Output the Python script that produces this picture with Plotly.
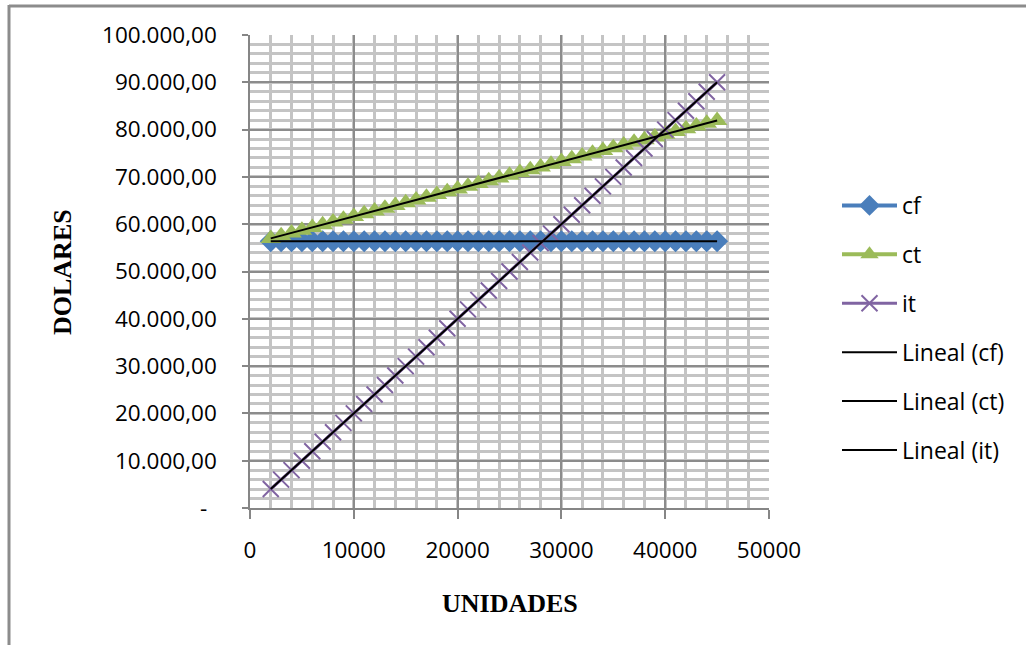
import numpy as np
import plotly.graph_objects as go

# ---- data ----
unidades = [2000, 3000, 4000, 5000, 6000, 7000, 8000, 9000, 10000, 11000, 12000,
            13000, 14000, 15000, 16000, 17000, 18000, 19000, 20000, 21000, 22000,
            23000, 24000, 25000, 26000, 27000, 28000, 29000, 30000, 31000, 32000,
            33000, 34000, 35000, 36000, 37000, 38000, 39000, 40000, 41000, 42000,
            43000, 44000, 45000]
cf = [56400] * 44
ct = [57000, 57580, 58160, 58740, 59320, 59900, 60480, 61060, 61640, 62220, 62800,
      63380, 63960, 64540, 65120, 65700, 66280, 66860, 67440, 68020, 68600,
      69180, 69760, 70340, 70920, 71500, 72080, 72660, 73240, 73820, 74400,
      74980, 75560, 76140, 76720, 77300, 77880, 78460, 79040, 79620, 80200,
      80780, 81360, 81940]
it = [4000, 6000, 8000, 10000, 12000, 14000, 16000, 18000, 20000, 22000, 24000,
      26000, 28000, 30000, 32000, 34000, 36000, 38000, 40000, 42000, 44000,
      46000, 48000, 50000, 52000, 54000, 56000, 58000, 60000, 62000, 64000,
      66000, 68000, 70000, 72000, 74000, 76000, 78000, 80000, 82000, 84000,
      86000, 88000, 90000]

y_tickvals = [0, 10000, 20000, 30000, 40000, 50000, 60000, 70000, 80000, 90000, 100000]
y_ticktext = ["-\u00a0\u2009", "10.000,00", "20.000,00", "30.000,00", "40.000,00",
              "50.000,00", "60.000,00", "70.000,00", "80.000,00", "90.000,00", "100.000,00"]
x_tickvals = [0, 10000, 20000, 30000, 40000, 50000]
x_ticktext = ["0", "10000", "20000", "30000", "40000", "50000"]

BLUE = "#4A7EBB"
GREEN = "#9BBB59"
PURPLE = "#8064A2"

tick_font = dict(family="Open Sans, Carlito, Calibri, sans-serif", size=22.5, color="#000000")
legend_font = dict(family="Open Sans, Carlito, Calibri, sans-serif", size=23, color="#000000")
title_font = dict(family="Liberation Serif, Times New Roman, serif", size=26, color="#000000")

fig = go.Figure()

fig.add_trace(go.Scatter(x=unidades, y=cf, name="cf", mode="lines+markers",
                         legendgroup="a",
                         line=dict(color=BLUE, width=4),
                         marker=dict(symbol="diamond", size=17, color=BLUE)))
fig.add_trace(go.Scatter(x=unidades, y=ct, name="ct", mode="lines+markers",
                         legendgroup="b",
                         line=dict(color=GREEN, width=4),
                         marker=dict(symbol="triangle-up", size=18, color=GREEN)))
fig.add_trace(go.Scatter(x=unidades, y=it, name="it", mode="lines+markers",
                         legendgroup="c",
                         line=dict(color=PURPLE, width=3),
                         marker=dict(symbol="x-thin-open", size=16,
                                     line=dict(color=PURPLE, width=2))))

xs = np.array(unidades, dtype=float)
for name, series, grp in [("Lineal (cf)", cf, "d"), ("Lineal (ct)", ct, "e"), ("Lineal (it)", it, "f")]:
    m, b = np.polyfit(xs, np.array(series, dtype=float), 1)
    xe = [xs.min(), xs.max()]
    ye = [m * xe[0] + b, m * xe[1] + b]
    fig.add_trace(go.Scatter(x=xe, y=ye, name=name, mode="lines", legendgroup=grp,
                             line=dict(color="#000000", width=2)))

L, R, T, B = 250, 769, 35, 508
W, H = 1026, 645

def px_x(p):
    return (p - L) / (R - L)

def px_y(p):
    return (B - p) / (B - T)

fig.update_layout(
    width=W, height=H,
    margin=dict(l=L, r=W - R, t=T, b=H - B, pad=0, autoexpand=False),
    paper_bgcolor="white", plot_bgcolor="white",
    showlegend=True,
    legend=dict(x=px_x(837), xanchor="left", y=px_y(328), yanchor="middle",
                traceorder="grouped", tracegroupgap=16,
                font=legend_font,
                bgcolor="rgba(0,0,0,0)", itemwidth=55),
    xaxis=dict(range=[0, 50000], tickvals=x_tickvals, ticktext=x_ticktext,
               showgrid=True, gridcolor="#8C8C8C", gridwidth=1.5,
               minor=dict(dtick=2000, tick0=0, showgrid=True, gridcolor="#C4C4C4", gridwidth=2.5,
                          ticks=""),
               showline=True, linecolor="#868686", linewidth=1.5,
               ticks="outside", ticklen=9, tickcolor="#868686", tickwidth=1.5,
               ticklabelstandoff=12, automargin=False,
               tickfont=tick_font, zeroline=False, fixedrange=True),
    yaxis=dict(range=[0, 100000], tickvals=y_tickvals, ticktext=y_ticktext,
               showgrid=True, gridcolor="#8C8C8C", gridwidth=1.5,
               minor=dict(dtick=2000, tick0=0, showgrid=True, gridcolor="#C4C4C4", gridwidth=2.5,
                          ticks=""),
               showline=True, linecolor="#868686", linewidth=1.5,
               ticks="outside", ticklen=6, tickcolor="#868686", tickwidth=1.5,
               ticklabelstandoff=21, automargin=False,
               tickfont=tick_font, zeroline=False, fixedrange=True),
    annotations=[
        dict(text="<b>UNIDADES</b>", x=0.5, xref="paper", y=px_y(603), yref="paper",
             xanchor="center", yanchor="middle", showarrow=False, font=title_font),
        dict(text="<b>DOLARES</b>", x=px_x(62), xref="paper", y=px_y(272), yref="paper",
             xanchor="center", yanchor="middle", showarrow=False, textangle=-90,
             font=title_font),
    ],
    shapes=[
        dict(type="line", xref="paper", yref="paper",
             x0=px_x(9), x1=px_x(1040), y0=px_y(6), y1=px_y(6),
             line=dict(color="#8C8C8C", width=3), layer="above"),
        dict(type="line", xref="paper", yref="paper",
             x0=px_x(9), x1=px_x(9), y0=px_y(5), y1=px_y(660),
             line=dict(color="#8C8C8C", width=3), layer="above"),
    ],
)

fig.write_html("out.html",
               config={"displayModeBar": False},
               post_script="document.body.style.margin='0';document.body.style.overflow='hidden';")
